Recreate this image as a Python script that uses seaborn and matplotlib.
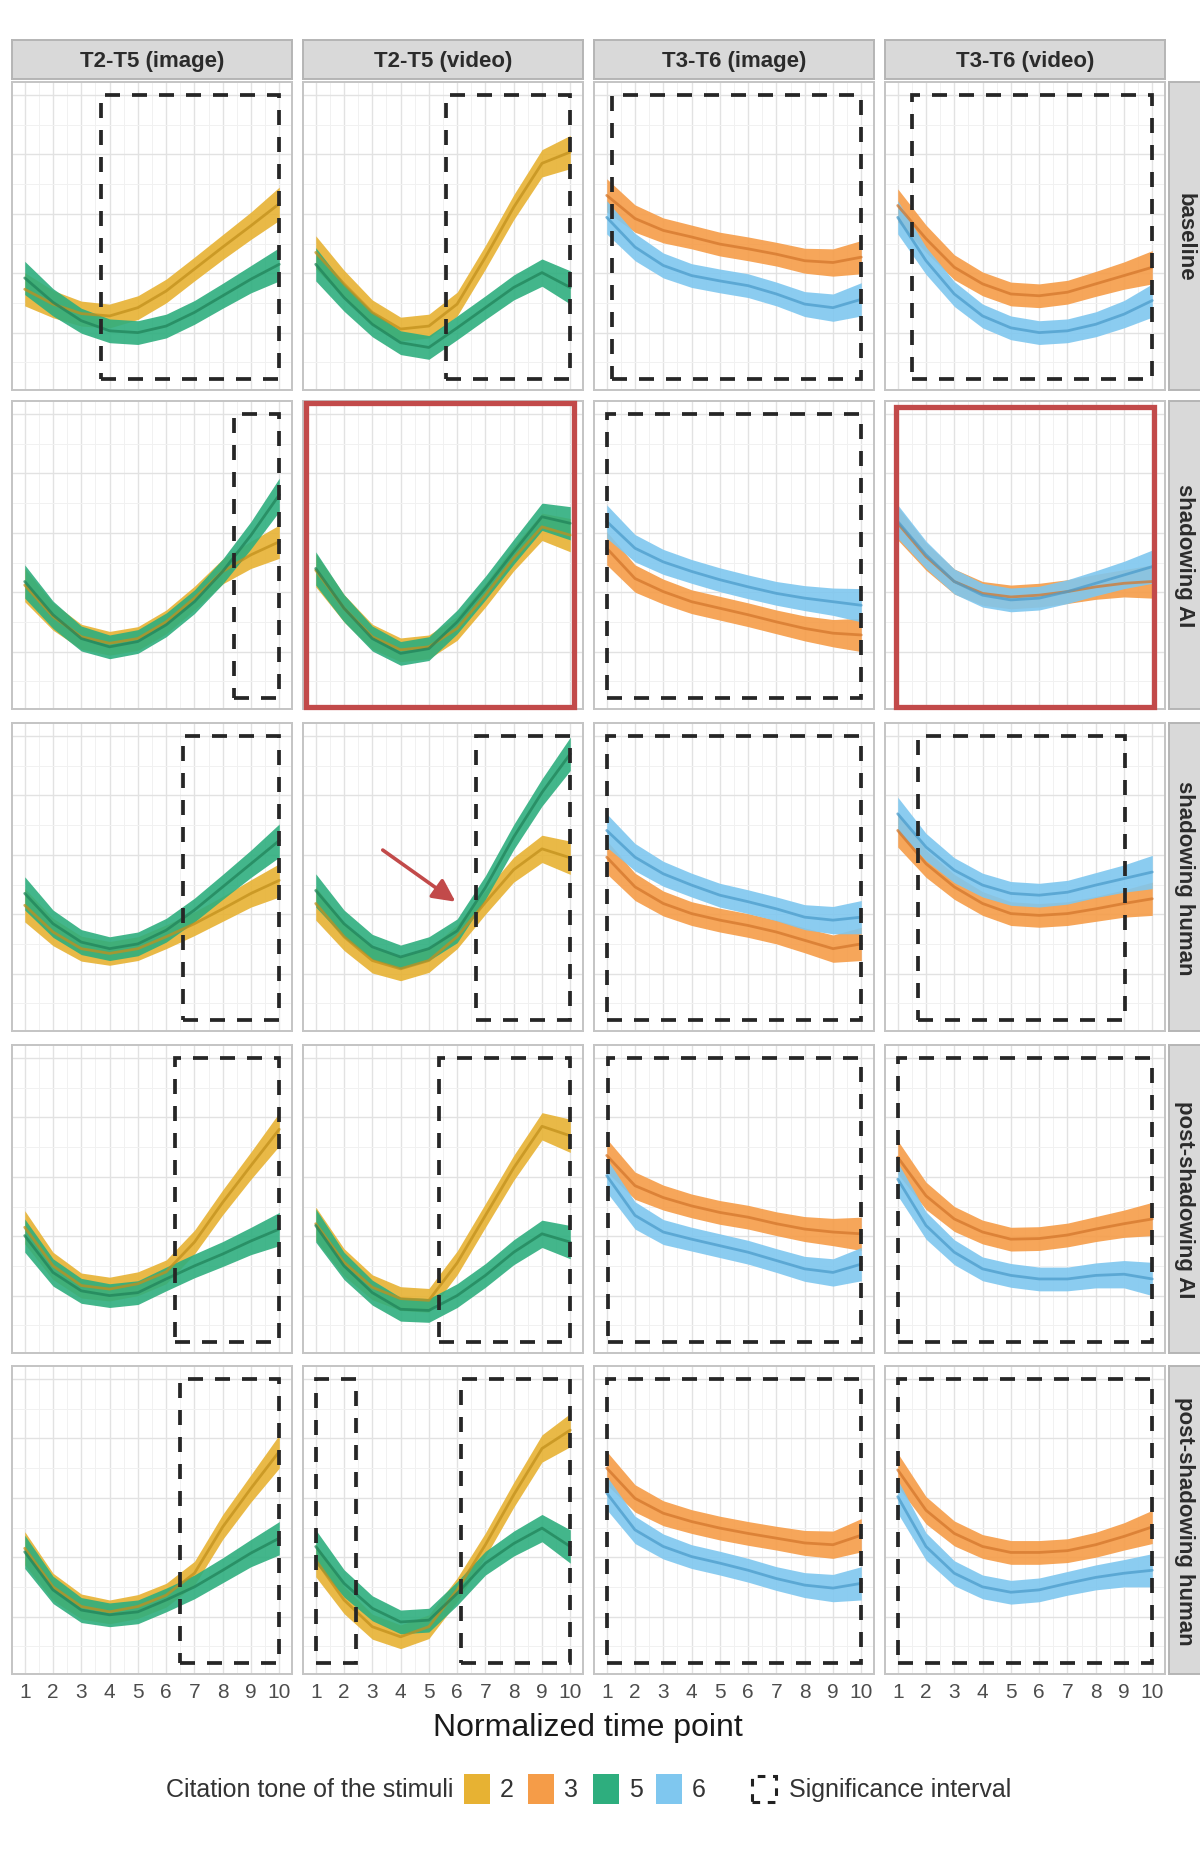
import numpy as np
import pandas as pd
import matplotlib
matplotlib.use("Agg")
import matplotlib.pyplot as plt
from matplotlib.patches import Rectangle
from matplotlib import font_manager
import seaborn as sns

# ---------------- data ----------------
time_points = list(range(1, 11))
columns = ["T2-T5 (image)", "T2-T5 (video)", "T3-T6 (image)", "T3-T6 (video)"]
rows = ["baseline", "shadowing AI", "shadowing human", "post-shadowing AI", "post-shadowing human"]
tones_t25 = ["2", "5"]
tones_t36 = ["3", "6"]

# baseline
b_t25i_2 = [-0.27, -0.52, -0.68, -0.72, -0.58, -0.30, 0.07, 0.44, 0.80, 1.17]
b_t25i_5 = [-0.08, -0.49, -0.80, -0.97, -1.00, -0.89, -0.66, -0.38, -0.10, 0.15]
b_t25v_2 = [0.35, -0.18, -0.66, -0.94, -0.89, -0.52, 0.27, 1.11, 1.85, 2.04]
b_t25v_5 = [0.15, -0.41, -0.86, -1.17, -1.25, -0.92, -0.58, -0.24, 0.01, -0.24]
b_t36i_3 = [1.31, 0.92, 0.72, 0.61, 0.49, 0.41, 0.32, 0.21, 0.18, 0.27]
b_t36i_6 = [0.94, 0.44, 0.13, -0.04, -0.13, -0.21, -0.35, -0.52, -0.58, -0.44]
b_t36v_3 = [1.14, 0.58, 0.10, -0.18, -0.35, -0.38, -0.32, -0.18, -0.04, 0.10]
b_t36v_6 = [0.94, 0.21, -0.35, -0.72, -0.92, -1.00, -0.97, -0.86, -0.69, -0.46]
# shadowing AI
s_t25i_2 = [0.12, -0.41, -0.75, -0.86, -0.78, -0.50, -0.10, 0.35, 0.63, 0.85]
s_t25i_5 = [0.18, -0.38, -0.78, -0.92, -0.83, -0.55, -0.16, 0.35, 0.96, 1.64]
s_t25v_2 = [0.37, -0.27, -0.75, -0.97, -0.92, -0.61, -0.05, 0.57, 1.10, 0.96]
s_t25v_5 = [0.40, -0.27, -0.78, -1.03, -0.95, -0.50, 0.07, 0.68, 1.27, 1.16]
s_t36i_3 = [0.74, 0.23, 0.01, -0.16, -0.27, -0.38, -0.50, -0.61, -0.69, -0.72]
s_t36i_6 = [1.19, 0.74, 0.51, 0.35, 0.21, 0.09, -0.02, -0.10, -0.16, -0.22]
s_t36v_3 = [1.16, 0.60, 0.18, -0.02, -0.08, -0.05, 0.01, 0.09, 0.15, 0.18]
s_t36v_6 = [1.19, 0.63, 0.18, -0.05, -0.13, -0.10, 0.01, 0.15, 0.29, 0.43]
# shadowing human
h_t25i_2 = [0.15, -0.30, -0.58, -0.66, -0.58, -0.38, -0.16, 0.09, 0.35, 0.57]
h_t25i_5 = [0.35, -0.16, -0.47, -0.58, -0.50, -0.27, 0.07, 0.46, 0.85, 1.24]
h_t25v_2 = [0.18, -0.38, -0.78, -0.92, -0.78, -0.38, 0.20, 0.75, 1.10, 0.95]
h_t25v_5 = [0.40, -0.16, -0.55, -0.72, -0.58, -0.28, 0.45, 1.30, 2.05, 2.70]
h_t36i_3 = [0.96, 0.46, 0.18, 0.01, -0.10, -0.19, -0.30, -0.44, -0.58, -0.50]
h_t36i_6 = [1.41, 0.96, 0.68, 0.49, 0.32, 0.21, 0.09, -0.05, -0.10, -0.05]
h_t36v_3 = [1.41, 0.85, 0.46, 0.18, 0.01, -0.02, 0.01, 0.09, 0.18, 0.26]
h_t36v_6 = [1.69, 1.13, 0.74, 0.49, 0.35, 0.32, 0.37, 0.49, 0.60, 0.71]
# post-shadowing AI
p_t25i_2 = [0.15, -0.50, -0.83, -0.89, -0.80, -0.60, -0.10, 0.57, 1.19, 1.80]
p_t25i_5 = [0.01, -0.61, -0.92, -1.00, -0.95, -0.72, -0.50, -0.30, -0.08, 0.12]
p_t25v_2 = [0.21, -0.44, -0.86, -1.05, -1.08, -0.45, 0.35, 1.15, 1.85, 1.69]
p_t25v_5 = [0.18, -0.50, -0.95, -1.23, -1.25, -1.00, -0.66, -0.27, 0.04, -0.10]
p_t36i_3 = [1.36, 0.85, 0.65, 0.51, 0.40, 0.32, 0.21, 0.12, 0.07, 0.04]
p_t36i_6 = [1.02, 0.35, 0.07, -0.05, -0.16, -0.27, -0.41, -0.55, -0.61, -0.47]
p_t36v_3 = [1.33, 0.68, 0.29, 0.07, -0.05, -0.04, 0.02, 0.12, 0.21, 0.29]
p_t36v_6 = [0.96, 0.18, -0.27, -0.55, -0.66, -0.72, -0.72, -0.66, -0.64, -0.72]
# post-shadowing human
q_t25i_2 = [0.15, -0.50, -0.83, -0.92, -0.83, -0.64, -0.27, 0.51, 1.16, 1.78]
q_t25i_5 = [0.09, -0.55, -0.89, -0.97, -0.92, -0.72, -0.50, -0.22, 0.07, 0.32]
q_t25v_2 = [-0.05, -0.72, -1.17, -1.34, -1.17, -0.55, 0.21, 1.05, 1.83, 2.14]
q_t25v_5 = [0.18, -0.44, -0.86, -1.09, -1.06, -0.61, -0.10, 0.23, 0.49, 0.18]
q_t36i_3 = [1.50, 0.99, 0.74, 0.60, 0.49, 0.40, 0.32, 0.24, 0.21, 0.37]
q_t36i_6 = [1.08, 0.46, 0.18, 0.01, -0.10, -0.22, -0.36, -0.47, -0.52, -0.44]
q_t36v_3 = [1.47, 0.79, 0.40, 0.18, 0.08, 0.08, 0.11, 0.21, 0.35, 0.51]
q_t36v_6 = [1.02, 0.18, -0.27, -0.50, -0.59, -0.55, -0.44, -0.34, -0.27, -0.22]

# confidence band half-width at each time point
ci_half = [0.28, 0.23, 0.21, 0.20, 0.20, 0.20, 0.20, 0.21, 0.23, 0.28]

# significance intervals (start, end) per panel, row by row
sig_baseline = [[(3.7, 10)], [(5.6, 10)], [(1.2, 10)], [(1.5, 10)]]
sig_shadow_ai = [[(8.4, 10)], [], [(1.0, 10)], []]
sig_shadow_human = [[(6.6, 10)], [(6.65, 10)], [(1.0, 10)], [(1.7, 9.05)]]
sig_post_ai = [[(6.3, 10)], [(5.35, 10)], [(1.05, 10)], [(1.0, 10)]]
sig_post_human = [[(6.5, 10)], [(1.0, 2.43), (6.15, 10)], [(1.0, 10)], [(1.0, 10)]]
sig_y = (-1.78, 3.0)

highlight_panels = [("shadowing AI", "T2-T5 (video)"), ("shadowing AI", "T3-T6 (video)")]
arrow_panel = ("shadowing human", "T2-T5 (video)")
arrow_from = (3.37, 1.08)
arrow_to = (5.94, 0.21)

# ---------------- assemble ----------------
curves = {
    ("baseline", 0): {"2": b_t25i_2, "5": b_t25i_5}, ("baseline", 1): {"2": b_t25v_2, "5": b_t25v_5},
    ("baseline", 2): {"3": b_t36i_3, "6": b_t36i_6}, ("baseline", 3): {"3": b_t36v_3, "6": b_t36v_6},
    ("shadowing AI", 0): {"2": s_t25i_2, "5": s_t25i_5}, ("shadowing AI", 1): {"2": s_t25v_2, "5": s_t25v_5},
    ("shadowing AI", 2): {"3": s_t36i_3, "6": s_t36i_6}, ("shadowing AI", 3): {"3": s_t36v_3, "6": s_t36v_6},
    ("shadowing human", 0): {"2": h_t25i_2, "5": h_t25i_5}, ("shadowing human", 1): {"2": h_t25v_2, "5": h_t25v_5},
    ("shadowing human", 2): {"3": h_t36i_3, "6": h_t36i_6}, ("shadowing human", 3): {"3": h_t36v_3, "6": h_t36v_6},
    ("post-shadowing AI", 0): {"2": p_t25i_2, "5": p_t25i_5}, ("post-shadowing AI", 1): {"2": p_t25v_2, "5": p_t25v_5},
    ("post-shadowing AI", 2): {"3": p_t36i_3, "6": p_t36i_6}, ("post-shadowing AI", 3): {"3": p_t36v_3, "6": p_t36v_6},
    ("post-shadowing human", 0): {"2": q_t25i_2, "5": q_t25i_5}, ("post-shadowing human", 1): {"2": q_t25v_2, "5": q_t25v_5},
    ("post-shadowing human", 2): {"3": q_t36i_3, "6": q_t36i_6}, ("post-shadowing human", 3): {"3": q_t36v_3, "6": q_t36v_6},
}
sig_rows = [sig_baseline, sig_shadow_ai, sig_shadow_human, sig_post_ai, sig_post_human]

records = []
for (cond, ci), tone_dict in curves.items():
    for tone, vals in tone_dict.items():
        for t, v, h in zip(time_points, vals, ci_half):
            records.append(dict(condition=cond, comparison=columns[ci], tone=tone,
                                time=t, value=v, lo=v - h, hi=v + h))
df = pd.DataFrame(records)

# ---------------- style ----------------
sns.set_theme(style="white")
installed = {f.name for f in font_manager.fontManager.ttflist}
main_font = "Liberation Sans Narrow" if "Liberation Sans Narrow" in installed else "Liberation Sans"
plt.rcParams["font.family"] = [main_font, "DejaVu Sans"]

fill_colors = {"2": "#E7B233", "3": "#F59C48", "5": "#2EAE7E", "6": "#7FC7EF"}
line_colors = {"2": "#C2901C", "3": "#D4772C", "5": "#21845A", "6": "#4C9CCB"}
text_dark = "#1A1A1A"
tick_gray = "#4D4D4D"
red = "#C24A4A"

W, H = 1200, 1856
fig = plt.figure(figsize=(W / 100, H / 100), dpi=100)
fig.patch.set_facecolor("white")

col_left = [12, 303, 594, 885]
panel_w = 280
row_top = [83, 402, 724, 1046, 1367]
panel_h = 308
px_per_unit = 59.4
y_top = 3 + 13 / px_per_unit
y_bot = y_top - panel_h / px_per_unit


def fig_rect(x, y, w, h):
    return [x / W, 1 - (y + h) / H, w / W, h / H]


for r, cond in enumerate(rows):
    for c, comp in enumerate(columns):
        ax = fig.add_axes(fig_rect(col_left[c], row_top[r], panel_w, panel_h))
        ax.set_facecolor("white")
        tones = tones_t25 if c < 2 else tones_t36
        sub = df[(df.condition == cond) & (df.comparison == comp)]
        for tone in tones:
            s = sub[sub.tone == tone]
            ax.fill_between(s.time, s.lo, s.hi, color=fill_colors[tone], alpha=0.9, lw=0, zorder=2)
        sns.lineplot(data=sub, x="time", y="value", hue="tone", hue_order=tones,
                     palette=line_colors, ax=ax, legend=False, linewidth=2.0,
                     alpha=0.75, zorder=3, errorbar=None)
        # significance intervals
        for (a, b) in sig_rows[r][c]:
            ax.add_patch(Rectangle((a, sig_y[0]), b - a, sig_y[1] - sig_y[0], fill=False,
                                   edgecolor="#262626", lw=2.7, linestyle=(0, (4.0, 3.2)), zorder=4))
        if (cond, comp) in highlight_panels:
            if c == 1:
                ax.add_patch(Rectangle((0.012, 0.006), 0.955, 0.986, transform=ax.transAxes, fill=False,
                                       edgecolor=red, lw=3.8, zorder=6, clip_on=False))
            else:
                ax.add_patch(Rectangle((0.04, 0.006), 0.92, 0.975, transform=ax.transAxes, fill=False,
                                       edgecolor=red, lw=3.8, zorder=6, clip_on=False))
        if (cond, comp) == arrow_panel:
            ax.annotate("", xy=arrow_to, xytext=arrow_from,
                        arrowprops=dict(arrowstyle="-|>", color=red, lw=2.6, mutation_scale=34,
                                        shrinkA=0, shrinkB=0), zorder=7)
        ax.set_xlim(0.55, 10.45)
        ax.set_ylim(y_bot, y_top)
        ax.set_xticks(time_points)
        ax.set_xticks(np.arange(1.5, 10.5, 1), minor=True)
        ax.set_yticks([-1, 0, 1, 2, 3])
        ax.set_yticks(np.arange(-1.5, 3.5, 1), minor=True)
        ax.grid(which="major", color="#E2E2E2", lw=1.0, zorder=0)
        ax.grid(which="minor", color="#F1F1F1", lw=0.7, zorder=0)
        ax.set_axisbelow(True)
        for sp in ax.spines.values():
            sp.set_color("#C4C4C4")
            sp.set_linewidth(1.4)
        ax.set_xlabel("")
        ax.set_ylabel("")
        ax.set_yticklabels([])
        ax.tick_params(axis="both", which="minor", length=0)
        if c == 0:
            ax.tick_params(axis="y", which="major", length=4, color="#666666", width=1)
        else:
            ax.tick_params(axis="y", which="major", length=0)
        if r == len(rows) - 1:
            ax.tick_params(axis="x", which="major", length=4, color="#666666", width=1,
                           labelsize=15, labelcolor=tick_gray, pad=2)
            ax.set_xticklabels([str(t) for t in time_points])
        else:
            ax.tick_params(axis="x", which="major", length=0)
            ax.set_xticklabels([])

# top strips
for c, comp in enumerate(columns):
    sax = fig.add_axes(fig_rect(col_left[c], 41, panel_w, 39))
    sax.set_facecolor("#D9D9D9")
    sax.set_xticks([]); sax.set_yticks([])
    for sp in sax.spines.values():
        sp.set_color("#B5B5B5"); sp.set_linewidth(1.4)
    sax.text(0.5, 0.47, comp, ha="center", va="center", fontsize=16, fontweight="bold",
             color="#2B2B2B", transform=sax.transAxes)

# right strips
for r, cond in enumerate(rows):
    sax = fig.add_axes(fig_rect(1169, row_top[r], 34, panel_h))
    sax.set_facecolor("#D9D9D9")
    sax.set_xticks([]); sax.set_yticks([])
    for sp in sax.spines.values():
        sp.set_color("#B5B5B5"); sp.set_linewidth(1.4)
    sax.text(0.47, 0.5, cond, ha="center", va="center", fontsize=16, fontweight="bold",
             color="#2B2B2B", rotation=-90, transform=sax.transAxes)

# axis title
fig.text(588 / W, 1 - 1728 / H, "Normalized time point", ha="center", va="center",
         fontsize=23, color=text_dark)

# legend
ly = 1790
fig.text(166 / W, 1 - ly / H, "Citation tone of the stimuli", ha="left", va="center",
         fontsize=18, color="#333333")
legend_tones = ["2", "3", "5", "6"]
sq_x = [464, 528, 593, 656]
for tone, x in zip(legend_tones, sq_x):
    fig.patches.append(Rectangle((x / W, 1 - (ly + 15) / H), 26 / W, 30 / H,
                                 transform=fig.transFigure, facecolor=fill_colors[tone],
                                 edgecolor="none"))
    fig.text((x + 43) / W, 1 - ly / H, tone, ha="center", va="center", fontsize=18, color="#333333")
fig.patches.append(Rectangle((752 / W, 1 - (ly + 13) / H), 24 / W, 26 / H,
                             transform=fig.transFigure, fill=False, edgecolor="#222222",
                             lw=2.2, linestyle=(0, (2.5, 2.5))))
fig.text(789 / W, 1 - ly / H, "Significance interval", ha="left", va="center",
         fontsize=18, color="#333333")

fig.savefig("out.png", dpi=100, facecolor="white")
